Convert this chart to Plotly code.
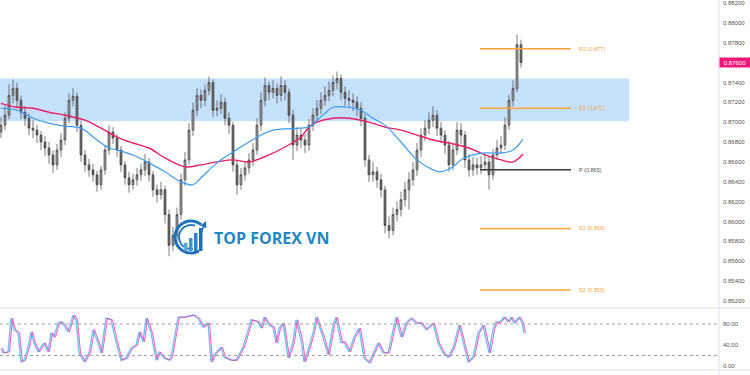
import math
import plotly.graph_objects as go

# ---------------- data ----------------
first_open = 0.8690
closes = [0.8697, 0.8707, 0.8727, 0.8734, 0.8722, 0.8710, 0.8704, 0.8694, 0.8692, 0.8687,
          0.8680, 0.8674, 0.8667, 0.8657, 0.8672, 0.8682, 0.8704, 0.8722, 0.8726, 0.8697,
          0.8667, 0.8657, 0.8652, 0.8647, 0.8637, 0.8652, 0.8672, 0.8690, 0.8684, 0.8672,
          0.8657, 0.8644, 0.8637, 0.8642, 0.8647, 0.8652, 0.8660, 0.8647, 0.8632, 0.8627,
          0.8632, 0.8607, 0.8576, 0.8586, 0.8607, 0.8642, 0.8662, 0.8692, 0.8712, 0.8727,
          0.8722, 0.8732, 0.8740, 0.8712, 0.8714, 0.8720, 0.8704, 0.8697, 0.8657, 0.8637,
          0.8647, 0.8654, 0.8662, 0.8672, 0.8697, 0.8722, 0.8737, 0.8730, 0.8734, 0.8727,
          0.8737, 0.8730, 0.8707, 0.8677, 0.8687, 0.8682, 0.8677, 0.8697, 0.8707, 0.8714,
          0.8722, 0.8727, 0.8732, 0.8740, 0.8744, 0.8730, 0.8724, 0.8722, 0.8720, 0.8714,
          0.8704, 0.8662, 0.8647, 0.8650, 0.8642, 0.8632, 0.8596, 0.8591, 0.8607, 0.8612,
          0.8622, 0.8632, 0.8642, 0.8652, 0.8672, 0.8687, 0.8694, 0.8702, 0.8707, 0.8694,
          0.8687, 0.8677, 0.8657, 0.8672, 0.8692, 0.8687, 0.8662, 0.8652, 0.8657, 0.8654,
          0.8657, 0.8660, 0.8647, 0.8667, 0.8674, 0.8677, 0.8697, 0.8722, 0.8734, 0.8778,
          0.8760]
highs = [0.8705, 0.8716, 0.8738, 0.8743, 0.8740, 0.8727, 0.8716, 0.8709, 0.8702, 0.8697,
         0.8691, 0.8686, 0.8680, 0.8672, 0.8678, 0.8689, 0.8710, 0.8729, 0.8734, 0.8730,
         0.8701, 0.8672, 0.8663, 0.8658, 0.8651, 0.8656, 0.8677, 0.8697, 0.8695, 0.8688,
         0.8676, 0.8661, 0.8650, 0.8648, 0.8654, 0.8658, 0.8668, 0.8664, 0.8651, 0.8637,
         0.8640, 0.8636, 0.8612, 0.8595, 0.8614, 0.8648, 0.8670, 0.8699, 0.8720, 0.8734,
         0.8733, 0.8738, 0.8746, 0.8743, 0.8722, 0.8728, 0.8725, 0.8710, 0.8700, 0.8661,
         0.8654, 0.8660, 0.8669, 0.8679, 0.8704, 0.8730, 0.8745, 0.8741, 0.8742, 0.8739,
         0.8746, 0.8742, 0.8734, 0.8712, 0.8695, 0.8693, 0.8688, 0.8703, 0.8714, 0.8722,
         0.8730, 0.8736, 0.8741, 0.8747, 0.8751, 0.8748, 0.8736, 0.8732, 0.8729, 0.8726,
         0.8720, 0.8708, 0.8667, 0.8660, 0.8655, 0.8648, 0.8636, 0.8605, 0.8614, 0.8620,
         0.8630, 0.8640, 0.8650, 0.8660, 0.8679, 0.8694, 0.8702, 0.8710, 0.8716, 0.8712,
         0.8700, 0.8692, 0.8681, 0.8678, 0.8700, 0.8699, 0.8691, 0.8668, 0.8665, 0.8664,
         0.8666, 0.8668, 0.8665, 0.8673, 0.8682, 0.8686, 0.8705, 0.8728, 0.8742, 0.8788,
         0.8783]
lows = [0.8684, 0.8692, 0.8703, 0.8719, 0.8714, 0.8703, 0.8696, 0.8687, 0.8684, 0.8679,
        0.8672, 0.8666, 0.8658, 0.8649, 0.8652, 0.8665, 0.8677, 0.8699, 0.8716, 0.8690,
        0.8660, 0.8650, 0.8645, 0.8640, 0.8630, 0.8632, 0.8647, 0.8667, 0.8678, 0.8665,
        0.8650, 0.8637, 0.8629, 0.8632, 0.8636, 0.8641, 0.8646, 0.8640, 0.8625, 0.8619,
        0.8622, 0.8598, 0.8565, 0.8570, 0.8580, 0.8602, 0.8636, 0.8657, 0.8686, 0.8706,
        0.8714, 0.8716, 0.8727, 0.8705, 0.8706, 0.8708, 0.8697, 0.8688, 0.8650, 0.8627,
        0.8632, 0.8641, 0.8648, 0.8656, 0.8667, 0.8691, 0.8716, 0.8722, 0.8724, 0.8719,
        0.8721, 0.8722, 0.8699, 0.8662, 0.8671, 0.8674, 0.8669, 0.8671, 0.8691, 0.8701,
        0.8708, 0.8716, 0.8721, 0.8726, 0.8733, 0.8722, 0.8716, 0.8714, 0.8711, 0.8706,
        0.8696, 0.8655, 0.8640, 0.8640, 0.8634, 0.8624, 0.8588, 0.8583, 0.8586, 0.8600,
        0.8605, 0.8615, 0.8612, 0.8636, 0.8646, 0.8665, 0.8681, 0.8688, 0.8695, 0.8686,
        0.8679, 0.8668, 0.8650, 0.8652, 0.8667, 0.8678, 0.8654, 0.8645, 0.8646, 0.8647,
        0.8648, 0.8651, 0.8632, 0.8642, 0.8662, 0.8668, 0.8672, 0.8692, 0.8716, 0.8730,
        0.8755]
bar_hours = 4  # one candle every 4 hours
times = [i * bar_hours for i in range(len(closes))]
opens = [first_open] + closes[:-1]

# moving averages (time, value)
ma_fast_t = [0, 16, 32, 48, 64, 80, 96, 108, 116, 132, 148, 164, 180, 192, 200, 216, 232, 248,
             260, 272, 300, 308, 316, 324, 332, 348, 360, 372, 384, 400, 416, 432, 440, 452,
             460, 472, 484, 500, 512, 522]
ma_fast_v = [0.8714, 0.8712, 0.8704, 0.8699, 0.8696, 0.8694, 0.8682, 0.8674, 0.8672, 0.8667,
             0.8659, 0.8650, 0.8640, 0.8637, 0.8644, 0.8659, 0.8670, 0.8680, 0.8687, 0.8692,
             0.8694, 0.8695, 0.8702, 0.8709, 0.8715, 0.8715, 0.8712, 0.8704, 0.8697, 0.8680,
             0.8662, 0.8652, 0.8650, 0.8655, 0.8662, 0.8667, 0.8669, 0.8669, 0.8672, 0.8683]
ma_slow_t = [0, 16, 32, 48, 64, 84, 100, 116, 132, 148, 164, 184, 200, 216, 232, 248, 268,
             284, 300, 308, 316, 332, 348, 368, 384, 400, 416, 432, 448, 468, 484, 500, 512, 522]
ma_slow_v = [0.8719, 0.8715, 0.8714, 0.8710, 0.8707, 0.8702, 0.8694, 0.8685, 0.8679, 0.8674,
             0.8664, 0.8655, 0.8657, 0.8660, 0.8662, 0.8660, 0.8667, 0.8675, 0.8685, 0.8695,
             0.8700, 0.8704, 0.8704, 0.8700, 0.8695, 0.8692, 0.8687, 0.8682, 0.8679, 0.8674,
             0.8667, 0.8662, 0.8660, 0.8668]

# support / resistance zone
zone_low, zone_high, zone_end = 0.8701, 0.8744, 628

# pivot levels
pivot_names = ["R2", "R1", "P", "S1", "S2"]
pivot_values = [0.8774, 0.8714, 0.8652, 0.8593, 0.8531]
pivot_start, pivot_end = 479, 570
last_price = 0.8760

# stochastic RSI %K (time, value)
stoch_t = [0, 2, 7, 10, 13, 17, 20, 23, 27, 30, 33, 37, 40, 43, 47, 50, 53, 57, 60, 63, 67, 72,
           75, 78, 83, 88, 92, 97, 100, 105, 110, 115, 120, 125, 130, 135, 138, 142, 145, 150,
           155, 158, 163, 168, 170, 177, 183, 192, 197, 202, 207, 210, 213, 220, 223, 230, 235,
           242, 248, 250, 257, 260, 263, 268, 272, 275, 278, 282, 287, 292, 295, 300, 303, 308,
           312, 315, 322, 327, 332, 335, 340, 343, 348, 353, 358, 363, 368, 373, 377, 382, 387,
           395, 400, 405, 410, 415, 420, 425, 432, 437, 442, 447, 452, 458, 467, 472, 477, 482,
           488, 492, 495, 498, 503, 507, 510, 513, 518, 521, 523]
stoch_k = [34, 25, 27, 91, 69, 63, 8, 11, 36, 65, 44, 27, 36, 44, 27, 63, 55, 82, 84, 78, 65, 97,
           88, 25, 8, 25, 69, 44, 25, 91, 88, 46, 11, 15, 34, 40, 65, 46, 91, 63,
           11, 27, 15, 11, 17, 93, 93, 97, 91, 74, 82, 8, 21, 36, 17, 11, 11,
           36, 74, 88, 84, 72, 93, 78, 74, 44, 72, 82, 15, 46, 88, 50, 8, 36,
           63, 93, 55, 21, 78, 93, 44, 46, 27, 55, 72, 15, 6, 27, 44, 25, 25,
           93, 55, 82, 91, 82, 82, 69, 82, 44, 25, 17, 34, 78, 8, 17, 63, 78,
           25, 69, 84, 82, 93, 84, 93, 82, 93, 82, 63]
stoch_lag = 1.5
stoch_levels = [80, 20]

# ---------------- figure ----------------
MAIN_BOTTOM = 62 / 370  # paper position of the panel separator

fig = go.Figure()

fig.add_trace(go.Candlestick(
    x=times, open=opens, high=highs, low=lows, close=closes,
    increasing=dict(line=dict(color="#444444", width=0.7), fillcolor="#9a9a9a"),
    decreasing=dict(line=dict(color="#444444", width=0.7), fillcolor="#6a6a6a"),
    whiskerwidth=0, showlegend=False, hoverinfo="skip", xaxis="x", yaxis="y"))

fig.add_trace(go.Scatter(x=ma_slow_t, y=ma_slow_v, mode="lines", line=dict(color="#e91e63", width=1.4, shape="spline"),
                         showlegend=False, xaxis="x", yaxis="y"))
fig.add_trace(go.Scatter(x=ma_fast_t, y=ma_fast_v, mode="lines", line=dict(color="#3b9cf2", width=1.2, shape="spline"),
                         showlegend=False, xaxis="x", yaxis="y"))

# pivots
for name, val in zip(pivot_names, pivot_values):
    col = "#3a3a3a" if name == "P" else "#f7a43c"
    fig.add_trace(go.Scatter(x=[pivot_start, pivot_end], y=[val, val], mode="lines",
                             line=dict(color=col, width=1.5), showlegend=False, xaxis="x", yaxis="y"))
    fig.add_annotation(x=pivot_end + 6, y=val, xref="x", yref="y", text=f"{name} ({val:.3f})",
                       showarrow=False, xanchor="left", yanchor="middle",
                       font=dict(size=5.5, color="#555555" if name == "P" else "#f7a43c", family="Arial"))

# stochastic
fig.add_trace(go.Scatter(x=stoch_t, y=stoch_k, mode="lines", line=dict(color="#7dbdf7", width=1.4),
                         showlegend=False, xaxis="x2", yaxis="y2"))
fig.add_trace(go.Scatter(x=[t + stoch_lag for t in stoch_t], y=stoch_k, mode="lines",
                         line=dict(color="#dd4fb5", width=0.9), showlegend=False, xaxis="x2", yaxis="y2"))

shapes = []
# zone
shapes.append(dict(type="rect", xref="x", yref="y", x0=-1, x1=zone_end, y0=zone_low, y1=zone_high,
                   fillcolor="rgba(160,205,250,0.6)", line=dict(width=0), layer="below"))
# stoch level lines
for lv in stoch_levels:
    shapes.append(dict(type="line", xref="paper", yref="y2", x0=0, x1=1, y0=lv, y1=lv,
                       line=dict(color="#a0a0a0", width=1, dash="dot")))
# panel separators and axis border
shapes.append(dict(type="line", xref="paper", yref="paper", x0=0, x1=1.05, y0=MAIN_BOTTOM, y1=MAIN_BOTTOM,
                   line=dict(color="#dcdfe6", width=1)))
shapes.append(dict(type="line", xref="paper", yref="paper", x0=0, x1=1.05, y0=0, y1=0,
                   line=dict(color="#dcdfe6", width=1)))
shapes.append(dict(type="line", xref="paper", yref="paper", x0=1, x1=1, y0=-0.02, y1=1,
                   line=dict(color="#dcdfe6", width=1)))

# logo (decoration) in paper coordinates
W, H = 719.0, 370.0
def px(x):
    return x / W
def py(y):
    return (H - y) / H
cx, cy = 191, 237
for r, wd, a0, a1 in [(16, 3.0, 50, 300), (12, 1.8, 70, 280)]:
    pts = []
    for k in range(40):
        a = math.radians(a0 + (a1 - a0) * k / 39)
        pts.append((px(cx + r * math.cos(a)), py(cy - r * math.sin(a))))
    path = "M " + " L ".join(f"{u:.5f},{v:.5f}" for u, v in pts)
    shapes.append(dict(type="path", xref="paper", yref="paper", path=path,
                       line=dict(color="#1e73b8", width=wd)))
for i, (bx, top) in enumerate([(184, 243), (189, 238), (194, 233), (199, 228)]):
    shapes.append(dict(type="rect", xref="paper", yref="paper", x0=px(bx), x1=px(bx + 3.5),
                       y0=py(251), y1=py(top), fillcolor=["#5aa6e0", "#3f93d6", "#2a82c9", "#1b70b5"][i],
                       line=dict(width=0)))
fig.add_annotation(x=px(206), y=py(221), ax=-5, ay=12, xref="paper", yref="paper",
                   axref="pixel", ayref="pixel", showarrow=True, arrowhead=2, arrowsize=0.8,
                   arrowwidth=1.6, arrowcolor="#1e73b8", text="")
fig.add_annotation(x=px(212), y=py(238), xref="paper", yref="paper", text="<b>TOP FOREX VN</b>",
                   showarrow=False, xanchor="left", yanchor="middle",
                   font=dict(size=16, color="#1f86c6", family="Open Sans"))

# last price label
fig.add_annotation(x=1, y=last_price, xref="paper", yref="y", text=f"{last_price:.5f}", showarrow=False,
                   xanchor="left", yanchor="middle", bgcolor="#f0177c", width=30, height=9, borderpad=0,
                   font=dict(size=6, color="white", family="Arial"))

main_ticks = [round(0.852 + 0.002 * i, 3) for i in range(16)]

fig.update_layout(
    width=750, height=375, margin=dict(l=0, r=31, t=0, b=5),
    paper_bgcolor="white", plot_bgcolor="white", shapes=shapes, hovermode=False,
    xaxis=dict(domain=[0, 1], range=[-1, 718], anchor="y", showticklabels=False, showgrid=False,
               zeroline=False, rangeslider=dict(visible=False), showline=False, ticks=""),
    xaxis2=dict(domain=[0, 1], range=[-1, 718], anchor="y2", matches="x", showticklabels=False,
                showgrid=False, zeroline=False, ticks=""),
    yaxis=dict(domain=[MAIN_BOTTOM, 1], range=[0.85129, 0.88230], side="right", anchor="x",
               tickvals=main_ticks, ticktext=[f"{v:.5f}" for v in main_ticks], showgrid=False,
               zeroline=False, ticks="", tickfont=dict(size=6, color="#555555", family="Arial"),
               ticklabelstandoff=3),
    yaxis2=dict(domain=[0, MAIN_BOTTOM], range=[-7.6, 110.5], side="right", anchor="x2",
                tickvals=[0, 40, 80], ticktext=["0.00", "40.00", "80.00"], showgrid=False,
                zeroline=False, ticks="", tickfont=dict(size=6, color="#555555", family="Arial"),
                ticklabelstandoff=3),
)

fig.write_html("out.html")
